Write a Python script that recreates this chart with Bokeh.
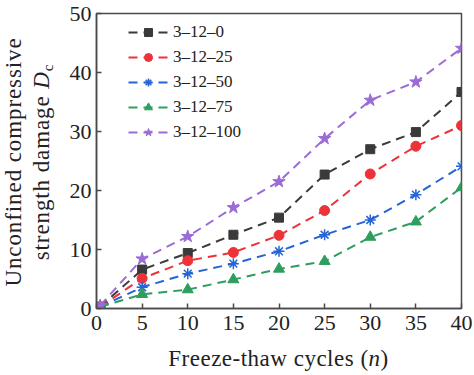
from bokeh.plotting import figure
from bokeh.models import Range1d, Legend, LegendItem, FixedTicker, Div
from bokeh.layouts import column, row
from bokeh.embed import file_html
from bokeh.resources import INLINE

cycles = [0.4, 5, 10, 15, 20, 25, 30, 35, 40]
d_0 = [0.3, 6.6, 9.4, 12.5, 15.4, 22.7, 27.0, 29.9, 36.7]
d_25 = [0.3, 5.1, 8.1, 9.5, 12.4, 16.6, 22.8, 27.5, 31.0]
d_50 = [0.3, 3.6, 5.9, 7.6, 9.7, 12.5, 15.0, 19.3, 24.1]
d_75 = [0.3, 2.4, 3.2, 4.9, 6.7, 8.0, 12.1, 14.7, 20.5]
d_100 = [0.5, 8.4, 12.2, 17.1, 21.5, 28.8, 35.3, 38.4, 44.1]
series_names = ["3–12–0", "3–12–25", "3–12–50", "3–12–75", "3–12–100"]
x_ticks = [0, 5, 10, 15, 20, 25, 30, 35, 40]
y_ticks = [0, 10, 20, 30, 40, 50]

FONT = "Liberation Serif"
AX = "#4a4a4a"
TXT = "#222222"

YLAB_W = 56
XLAB_H = 36
W, H = 474, 375
PW, PH = W - YLAB_W, H - XLAB_H

p = figure(width=PW, height=PH, output_backend="svg", toolbar_location=None,
           x_range=Range1d(0, 40), y_range=Range1d(0, 50),
           min_border_left=96 - YLAB_W, min_border_right=13, min_border_top=13,
           min_border_bottom=PH - 308)
p.grid.visible = False
p.outline_line_color = AX
p.outline_line_width = 1.5

for ax, ticks in ((p.xaxis, x_ticks), (p.yaxis, y_ticks)):
    ax.ticker = FixedTicker(ticks=ticks)
    ax.major_tick_in = 5
    ax.major_tick_out = 0
    ax.minor_tick_in = 0
    ax.minor_tick_out = 0
    ax.axis_line_color = AX
    ax.axis_line_width = 1.5
    ax.major_tick_line_color = AX
    ax.major_tick_line_width = 1.5
    ax.major_label_text_font = FONT
    ax.major_label_text_font_size = "22px"
    ax.major_label_text_color = TXT

p.xaxis.major_label_standoff = 7
p.yaxis.major_label_standoff = 5

styles = [
    (d_0, "#3a3a3a", "square", 9),
    (d_25, "#ee3338", "circle", 10),
    (d_50, "#2464d8", "asterisk", 11),
    (d_75, "#2e9e5e", "triangle", 11),
    (d_100, "#9b6bd6", "star", 13),
]

items = []
for (ys, color, marker, size), name in zip(styles, series_names):
    r1 = p.line(cycles, ys, line_color=color, line_width=2, line_dash="9 6")
    if marker == "asterisk":
        r2 = p.scatter(cycles, ys, marker=marker, size=size, line_color=color, line_width=1.5)
    else:
        r2 = p.scatter(cycles, ys, marker=marker, size=size, fill_color=color,
                       line_color=color, line_width=1)
    items.append(LegendItem(label=name, renderers=[r1, r2]))

legend = Legend(items=items, location=(32, 166), orientation="vertical")
legend.background_fill_alpha = 0
legend.border_line_alpha = 0
legend.padding = 0
legend.margin = 0
legend.spacing = 5
legend.glyph_width = 40
legend.glyph_height = 20
legend.label_height = 20
legend.label_standoff = 5
legend.label_text_font = FONT
legend.label_text_font_size = "17px"
legend.label_text_color = TXT
p.add_layout(legend, "center")

font_css = (f"font-family:'{FONT}'; font-size:23px; color:{TXT}; line-height:28px; "
            "white-space:nowrap;")

ylab_html = (
    f'<div style="{font_css} letter-spacing:0.9px; width:324px; height:56px; text-align:center; '
    'transform-origin:0 0; transform:translate(0px,324px) rotate(-90deg);">'
    'Unconfined compressive<br>strength damage <i>D</i>'
    '<span style="font-size:15px; line-height:0; position:relative; top:4px;">c</span>'
    '</div>'
)
ylab = Div(text=ylab_html, width=YLAB_W, height=PH, margin=0)

xlab_html = (
    f'<div style="{font_css} letter-spacing:0.5px; width:365px; margin-left:96px; '
    'padding-top:6px; text-align:center;">'
    'Freeze-thaw cycles (<i>n</i>)</div>'
)
xlab = Div(text=xlab_html, width=W, height=XLAB_H, margin=0)

layout = column(row(ylab, p, spacing=0), xlab, spacing=0)

open("out.html", "w").write(file_html(layout, INLINE))
